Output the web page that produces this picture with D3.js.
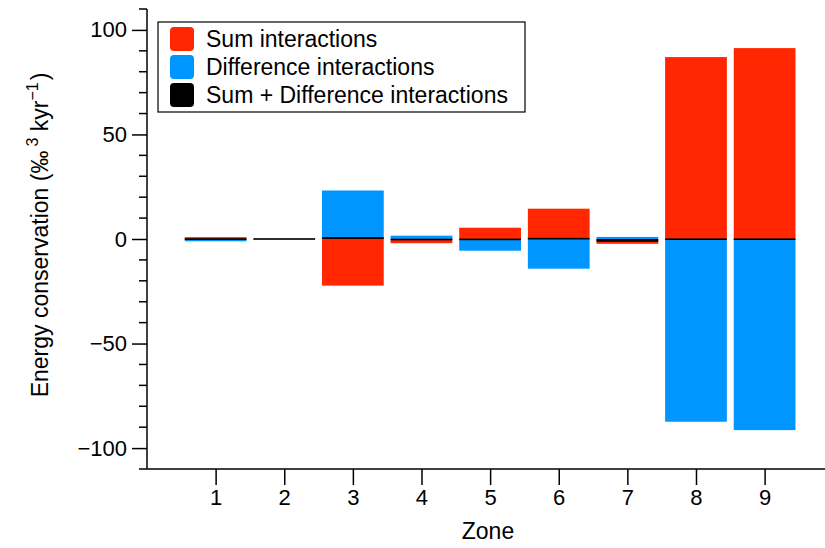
<!DOCTYPE html>
<html><head><meta charset="utf-8">
<script src="https://cdn.jsdelivr.net/npm/d3@7/dist/d3.min.js"></script>
<style>body{margin:0;background:#fff}svg text{font-family:"Liberation Sans",Arial,sans-serif;fill:#000}</style>
</head><body><svg id="c" width="825" height="548"></svg>
<script>
const zones = [1,2,3,4,5,6,7,8,9];
const sumVals = [0.9, 0.1, -22.3, -2.0, 5.4, 14.5, -2.3, 87.0, 91.3];
const diffVals = [-1.1, -0.1, 23.2, 1.6, -5.6, -14.2, 1.0, -87.4, -91.4];
const totalVals = [-0.1, 0.0, 0.9, -0.5, -0.4, 0.3, -1.3, -0.2, -0.2];
const yTicks = [-100, -50, 0, 50, 100];
const seriesNames = ["Sum interactions", "Difference interactions", "Sum + Difference interactions"];
const colors = ["#ff2600", "#0096ff", "#000000"];

const svg = d3.select("#c");
const x = d3.scaleLinear().domain([0, 9.88]).range([147, 825]);
const y = d3.scaleLinear().domain([-110, 110]).range([469, 9]);
const bw = x(0.9) - x(0);

function bars(vals, color, minH) {
  svg.append("g").selectAll("rect").data(vals).join("rect")
    .attr("x", (d,i) => x(zones[i]) - bw/2)
    .attr("width", bw)
    .attr("y", d => {
      const h = Math.abs(y(d) - y(0));
      return h < minH ? (y(d) + y(0))/2 - minH/2 : Math.min(y(d), y(0));
    })
    .attr("height", d => Math.max(Math.abs(y(d) - y(0)), minH))
    .attr("fill", color);
}
bars(sumVals, colors[0], 0);
bars(diffVals, colors[1], 0);
bars(totalVals, colors[2], 1.6);

// y axis
const yAxis = svg.append("g").attr("transform", `translate(${x(0)},0)`)
  .call(d3.axisLeft(y).tickValues(yTicks).tickSize(15).tickPadding(5).tickFormat(d => d < 0 ? "\u2212" + Math.abs(d) : d));
yAxis.select(".domain").remove();
yAxis.selectAll(".tick line").attr("stroke-width", 1.5);
yAxis.selectAll("text").attr("font-size", 22).attr("font-family", '"Liberation Sans",Arial,sans-serif');
const minor = d3.range(-110, 111, 10).filter(v => v % 50 !== 0);
svg.append("g").selectAll("line").data(minor).join("line")
  .attr("x1", x(0) - 8).attr("x2", x(0)).attr("y1", d => y(d)).attr("y2", d => y(d))
  .attr("stroke", "#000").attr("stroke-width", 1.5);
svg.append("line").attr("x1", x(0)).attr("x2", x(0)).attr("y1", y(110)).attr("y2", y(-110))
  .attr("stroke", "#000").attr("stroke-width", 1.5);

// x axis
const xAxis = svg.append("g").attr("transform", `translate(0,${y(-110)})`)
  .call(d3.axisBottom(x).tickValues(zones).tickSize(16).tickPadding(4).tickFormat(d3.format("d")));
xAxis.select(".domain").remove();
xAxis.selectAll(".tick line").attr("stroke-width", 1.5);
xAxis.selectAll("text").attr("font-size", 22).attr("font-family", '"Liberation Sans",Arial,sans-serif');
svg.append("line").attr("x1", x(0)).attr("x2", 825).attr("y1", y(-110)).attr("y2", y(-110))
  .attr("stroke", "#000").attr("stroke-width", 1.5);

// axis titles
svg.append("text").attr("x", 488).attr("y", 539).attr("text-anchor", "middle").attr("font-size", 23).text("Zone");
const yl = svg.append("text").attr("transform", "translate(48,235) rotate(-90)").attr("text-anchor", "middle").attr("font-size", 23);
yl.append("tspan").text("Energy conservation (\u2030");
yl.append("tspan").attr("font-size", 16).attr("dy", -10).attr("dx", 4).text("3");
yl.append("tspan").attr("dy", 10).text(" kyr");
yl.append("tspan").attr("font-size", 16).attr("dy", -10).text("\u22121");
yl.append("tspan").attr("dy", 10).attr("dx", 2).text(")");

// legend
const lg = svg.append("g");
lg.append("rect").attr("x", 158).attr("y", 22).attr("width", 367).attr("height", 90)
  .attr("fill", "#fff").attr("stroke", "#000").attr("stroke-width", 1.2);
const items = lg.selectAll("g.it").data(seriesNames).join("g").attr("class", "it")
  .attr("transform", (d,i) => `translate(170,${27 + i*28})`);
items.append("rect").attr("width", 24).attr("height", 24).attr("rx", 4).attr("fill", (d,i) => colors[i]);
items.append("text").attr("x", 36).attr("y", 12).attr("dy", "0.35em").attr("font-size", 23).text(d => d);
</script></body></html>
